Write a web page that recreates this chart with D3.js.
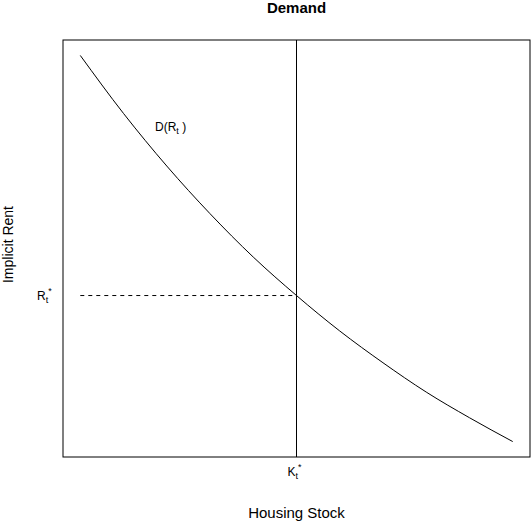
<!DOCTYPE html>
<html>
<head>
<meta charset="utf-8">
<script src="https://cdn.jsdelivr.net/npm/d3@7"></script>
<style>
  body { margin: 0; background: #fff; }
  text { font-family: "Liberation Sans", Arial, sans-serif; fill: #000; }
</style>
</head>
<body>
<div id="chart"></div>
<script>
// housing stock (x) and implicit rent
const stock = [0, 1, 2, 3, 4, 5, 6, 7, 8, 9, 10];
const rent = [10.0, 9.05, 8.19, 7.41, 6.70, 6.07, 5.49, 4.97, 4.49, 4.07, 3.68];
const equilibrium = { k: 5, r: 6.07 };

const width = 531, height = 522;
const plot = { left: 63, right: 530, top: 40, bottom: 457 };

// R style axis padding: 4% each side
function padded(vals) {
  const [lo, hi] = d3.extent(vals);
  const d = (hi - lo) * 0.04;
  return [lo - d, hi + d];
}

const x = d3.scaleLinear().domain(padded(stock)).range([plot.left, plot.right]);
const y = d3.scaleLinear().domain(padded(rent)).range([plot.bottom, plot.top]);

const svg = d3.select('#chart').append('svg')
  .attr('width', width)
  .attr('height', height);

// box
svg.append('rect')
  .attr('x', plot.left)
  .attr('y', plot.top)
  .attr('width', plot.right - plot.left)
  .attr('height', plot.bottom - plot.top)
  .attr('fill', 'none')
  .attr('stroke', '#000')
  .attr('stroke-width', 1);

// demand curve
const line = d3.line()
  .x((d, i) => x(stock[i]))
  .y(d => y(d))
  .curve(d3.curveMonotoneX);

svg.append('path')
  .datum(rent)
  .attr('d', line)
  .attr('fill', 'none')
  .attr('stroke', '#000')
  .attr('stroke-width', 1);

// vertical line at K*
svg.append('line')
  .attr('x1', x(equilibrium.k)).attr('x2', x(equilibrium.k))
  .attr('y1', plot.top).attr('y2', plot.bottom)
  .attr('stroke', '#000');

// dashed line at R*
svg.append('line')
  .attr('x1', x(stock[0])).attr('x2', x(equilibrium.k))
  .attr('y1', y(equilibrium.r)).attr('y2', y(equilibrium.r))
  .attr('stroke', '#000')
  .attr('stroke-dasharray', '4,4');

// title
svg.append('text')
  .attr('x', (plot.left + plot.right) / 2)
  .attr('y', 13)
  .attr('text-anchor', 'middle')
  .attr('font-weight', 'bold')
  .attr('font-size', 15)
  .text('Demand');

// axis titles
svg.append('text')
  .attr('x', (plot.left + plot.right) / 2)
  .attr('y', 518)
  .attr('text-anchor', 'middle')
  .attr('font-size', 15)
  .text('Housing Stock');

svg.append('text')
  .attr('transform', `translate(13, ${(plot.top + plot.bottom) / 2 - 4}) rotate(-90)`)
  .attr('text-anchor', 'middle')
  .attr('font-size', 14)
  .text('Implicit Rent');

// R_t* label on y axis
const rLab = svg.append('text')
  .attr('x', 37)
  .attr('y', y(equilibrium.r) + 4)
  .attr('font-size', 12);
rLab.append('tspan').text('R');
rLab.append('tspan').attr('font-size', 9).attr('dy', 3).text('t');
rLab.append('tspan').attr('font-size', 9).attr('dy', -9).text('*');

// K_t* label on x axis
const kLab = svg.append('text')
  .attr('x', x(equilibrium.k) - 9)
  .attr('y', 476)
  .attr('font-size', 12);
kLab.append('tspan').text('K');
kLab.append('tspan').attr('font-size', 9).attr('dy', 3).text('t');
kLab.append('tspan').attr('font-size', 9).attr('dy', -9).text('*');

// D(R_t) curve label
const dLab = svg.append('text')
  .attr('x', 155)
  .attr('y', 131)
  .attr('font-size', 12);
dLab.append('tspan').text('D(R');
dLab.append('tspan').attr('font-size', 9).attr('dy', 3).text('t');
dLab.append('tspan').attr('dy', -3).text(' )');
</script>
</body>
</html>
